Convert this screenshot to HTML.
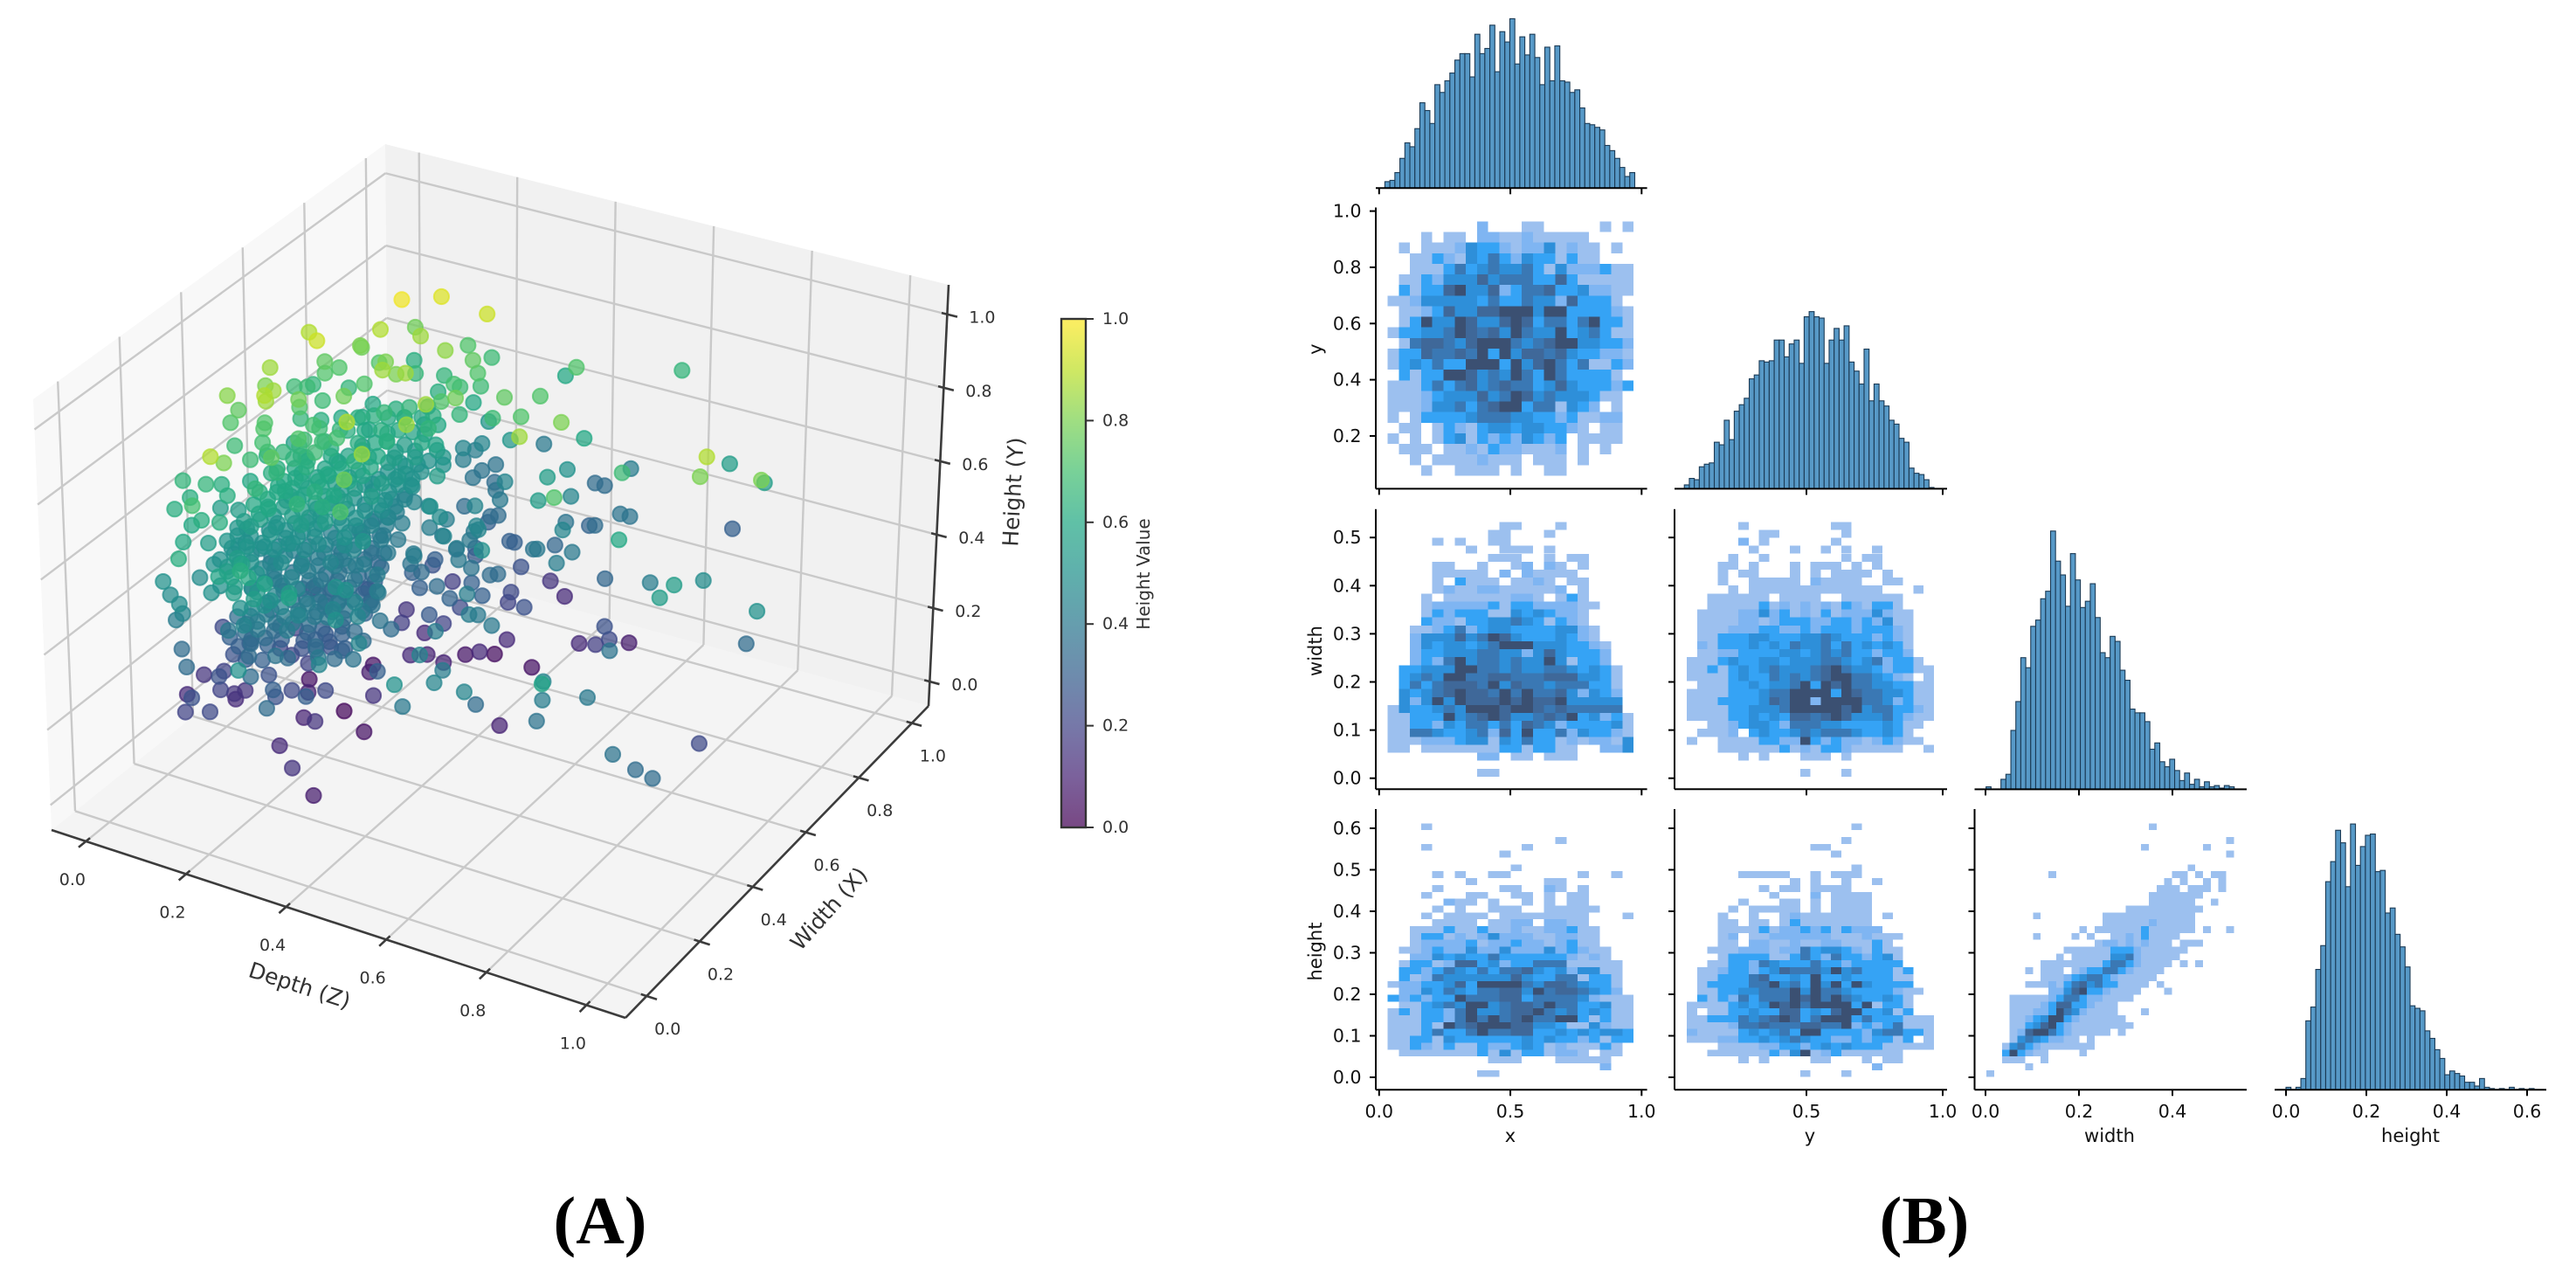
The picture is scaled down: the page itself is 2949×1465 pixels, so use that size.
<!DOCTYPE html>
<html lang="en">
<head>
<meta charset="utf-8">
<title>3D scatter and pair plot</title>
<style>
html,body{margin:0;padding:0;background:#fff;}
svg{display:block;}
text{font-family:"DejaVu Sans","Liberation Sans",sans-serif;}
.cap{font-family:"Liberation Serif",serif;font-weight:bold;font-size:77px;fill:#000;}
</style>
</head>
<body>
<svg id="figure" xmlns="http://www.w3.org/2000/svg" width="2949" height="1465" viewBox="0 0 2949 1465">
  <rect x="0" y="0" width="2949" height="1465" fill="#fff"/>
  <g id="scatter3d">
    <g id="panes"></g>
    <g id="grid3d"></g>
    <g id="axes3d"></g>
    <g id="points3d"></g>
    <text x="1160" y="563" font-size="25" fill="#333" text-anchor="middle" dominant-baseline="central" transform="rotate(-87 1160 563)">Height (Y)</text>
    <text x="343" y="1128" font-size="25" fill="#333" text-anchor="middle" dominant-baseline="central" transform="rotate(18 343 1128)">Depth (Z)</text>
    <text x="949" y="1040" font-size="25" fill="#333" text-anchor="middle" dominant-baseline="central" transform="rotate(-48 949 1040)">Width (X)</text>
    <g id="colorbar"></g>
    <text x="1309" y="657" font-size="20" fill="#333" text-anchor="middle" dominant-baseline="central" transform="rotate(-90 1309 657)">Height Value</text>
  </g>
  <g id="pairplot"></g>
  <text class="cap" x="687" y="1423" text-anchor="middle">(A)</text>
  <text class="cap" x="2203" y="1423" text-anchor="middle">(B)</text>
</svg>
<script>
// ---------- 3D scatter values ----------
const depthValues = [
.18,.21,.29,.13,.10,.18,.03,.09,.07,.06,
.04,.23,.17,.20,.02,.01,.01,.02,.07,.14,
.19,.18,.23,.10,.14,.23,.24,.24,.29,.38,
.50,-.04,-.02,-.04,.02,.09,.14,.21,.21,-.01,
.01,.07,.09,.08,.07,.04,.03,.13,.05,.11,
.15,.10,.32,.24,.30,.20,.24,.20,.35,.38,
-.02,-.03,.01,.02,.03,.06,.13,.14,.13,.19,
.32,.39,.02,.03,.26,.33,.08,.09,.08,.13,
.15,.52,.44,.24,.27,.18,.16,.16,.52,-.01,
.04,.10,.11,-.03,.04,.16,.13,.20,.16,.13,
.10,.04,.12,.01,.07,.07,.32,.13,.16,.20,
.19,.18,.18,.20,.29,.40,.42,.44,.36,.38,
.62,.86,.68,.83,.93,.77,-.04,0,0,.02,
.08,.08,.12,.29,.13,.17,.19,.25,.24,.28,
.42,.59,.45,-.02,.03,.08,.09,.15,.17,.18,
.19,.20,.29,.26,-.02,.06,-.01,.02,.10,.17,
.19,.30,.14,.18,.19,.28,.26,.27,.48,.50,
.41,.41,.44,.63,.02,.04,.07,.03,.07,.14,
.17,.14,.17,.24,.30,.30,.34,.47,.68,.30,
.31,.04,.04,.05,.09,.12,.15,.19,.24,.21,
.27,.22,.26,.32,.42,.41,.43,.40,.49,.08,
.05,.07,.10,.14,.17,.20,.25,.25,.26,.33,
.35,.37,.38,.33,.50,.33,.54,.20,.01,.04,
.14,0,.12,.03,.27,.10,.28,.25,.31,.32,
.34,.36,.68,.81,.80,.03,.10,.17,.05,.12,
.20,.29,.24,.16,.33,.29,.42,.36,.34,.41,
.81,.06,.06,-.03,.17,.07,.21,.27,.23,.20,
.30,.46,.46,.95,.04,.06,.17,.15,.05,.33,
.31,.21,.28,.44,.50,.35,.57,.47,.54,.58,
.52,.89,.05,.06,.10,.08,.11,.21,.25,.30,
.32,.23,.24,.48,.28,.27,.33,.30,.39,.71,
.14,.17,.09,-.02,.04,.08,.16,.15,.07,.35,
.34,.52,.28,.20,
-.03,.08,.07,.06,.05,.07,.22,.20,.19,.13,
.28,.24,.27,.53,.55,.61,.58,.51,.16,.06,
.11,.28,.17,.23,.48,.72,.72,.80,.71,.77,
.25,.20,.90,.89,.28,.93,.97,.31,
.07,.09,.10,.14,.15,.18,
.08,.08,.09,.13,.14,.15,.22,
.08,.09,.14,.12,.13,.16,.14,.20,.21,
.05,.05,.06,.12,.09,.10,.11,.16,.15,.18,.17,.20,
.05,.06,.09,.09,.13,.12,.17,.13,.16,.18,
.07,.08,.12,.11,.15,.12,.18,.17,.18,
.07,.08,.07,.11,.12,.14,.13,.19,.15,.17,
.07,.08,.08,.11,.11,.15,.14,.17,.18,.16,
.05,.07,.08,.09,.12,.13,.16,.17,.17,.17,
.03,.05,.09,.09,.12,.13,.14,.19,.16,.19,.20,
.03,.08,.05,.11,.08,.14,.13,.14,.19,.17,.19,
.05,.11,.10,.07,.13,.12,.13,.18,.16,.21,.19,
.12,.19,.13,.09,.15,.13,.16,.15,.21,.17,
.10,.16,.15,.22,.09,.18,.11,.16,.22,.19,.27,
.21,.20,.28,.20,.18,.23,.29,.27,
.07,.14,.16,.19,.23,.22,.24,.23,.32,
.12,.11,.16,.15,.22,.18,.18,.22,.27,
.09,.14,.13,.15,.24,.19,.25,.37,
.11,.15,.22,.22,.15,.30,.29,.34,
.22,.25,.33,.31,.23,.26,.26,.27,.25,.21,.19,
.07,.09,.11,.14,
.07,.08,.10,.15,.15,.16,
.05,.08,.08,.11,.12,.16,.13,.17,.18,
.07,.08,.08,.12,.11,.15,.13,.17,.14,
.08,.08,.11,.12,.12,.16,.12,.18,.17,
.08,.06,.11,.10,.13,.13,.17,.14,.18,
.03,.07,.05,.09,.08,.13,.10,.15,.17,.15,
.04,.04,.08,.05,.11,.08,.14,.11,.16,.14,
.06,.07,.06,.10,.08,.13,.11,.17,.15,.14,
.09,.15,.09,.09,.09,.14,.12,.16,.15,.19,
.16,.20,.12,.10,.09,.15,.12,.18,.17,
.18,.16,.25,.16,.15,.19,.23,.20,
.15,.20,.19,.20,.20,.20,.24,.28,
.12,.16,.16,.20,.19,.18,.22,
.11,.15,.14,.16,.19,.20];
const widthValues = [
.72,.80,.82,.73,.89,.78,.66,.59,.76,.78,
.98,.78,.95,.98,.55,.74,.74,.77,.82,.73,
.64,.70,.65,.89,.92,.87,.87,.88,1.08,.97,
1.13,.72,.73,.78,.80,.74,.90,.84,.86,.46,
.55,.48,.42,.44,.56,.61,.70,.61,.83,.81,
.79,.93,.57,.75,.70,.92,.81,.97,.78,.85,
.51,.50,.66,.71,.76,.78,.74,.79,.87,.82,
.79,.77,.53,.51,.41,.49,.61,.66,.77,.75,
.84,.69,.90,1.09,.93,.98,.95,.99,.55,.48,
.49,.51,.57,.70,.81,.70,.84,.80,.95,.18,
.27,.45,.39,.55,.58,.68,.36,.79,.80,.82,
1.01,.98,.95,.99,.88,.91,.81,1.06,1.07,1.07,
.73,.61,1.00,.64,.68,.97,.36,.37,.42,.48,
.47,.53,.57,.35,.70,.72,.73,.72,.93,.88,
.89,.55,.73,.35,.39,.40,.48,.48,.51,.66,
.74,.89,.78,.68,.30,.23,.43,.44,.41,.39,
.44,.32,.68,.67,.70,.68,.88,.89,.96,.96,
.89,.97,.94,1.10,.29,.29,.30,.45,.48,.45,
.48,.64,.67,.71,.66,.76,.71,.78,.62,.88,
.88,.23,.31,.39,.41,.44,.49,.51,.49,.62,
.61,.76,.83,.67,.59,.78,.76,.87,.78,.15,
.31,.36,.43,.45,.51,.53,.52,.63,.65,.66,
.67,.70,.71,.87,.71,.97,.81,.85,.21,.28,
.18,.51,.41,.66,.35,.73,.47,.66,.62,.72,
.82,.97,.73,.59,.71,.20,.22,.18,.48,.45,
.41,.35,.51,.76,.63,.73,.54,.69,.81,.75,
.54,.18,.19,.46,.20,.46,.33,.34,.51,.68,
.61,.48,.51,.64,.20,.34,.21,.36,.57,.25,
.43,.74,.69,.40,.49,.79,.76,.84,.78,.76,
.93,.71,.20,.35,.34,.47,.46,.38,.40,.39,
.45,.66,.70,.28,.69,.78,.73,.83,.81,.54,
.68,.62,.15,.38,.35,.27,.24,.32,.58,.16,
.37,.29,.01,.18,
.34,.18,.29,.35,.37,.37,.22,.26,.33,.48,
.23,.36,.47,.11,.21,.21,.30,.17,.55,.19,
.19,.10,.40,.34,.55,.27,.29,.15,.31,.36,
.47,.27,.53,.24,.18,.25,.24,.20,
.75,.77,.80,.79,.83,.82,
.59,.70,.74,.73,.77,.80,.74,
.56,.61,.57,.67,.71,.70,.79,.75,.78,
.49,.54,.58,.53,.63,.67,.72,.67,.74,.76,.82,.82,
.52,.56,.55,.61,.60,.67,.63,.75,.76,.78,
.51,.55,.54,.61,.59,.69,.65,.72,.75,
.43,.47,.53,.51,.56,.57,.64,.60,.73,.74,
.41,.44,.49,.50,.55,.53,.60,.61,.65,.73,
.41,.43,.47,.51,.50,.53,.55,.58,.63,.68,
.42,.43,.43,.48,.47,.51,.56,.51,.62,.63,.67,
.40,.37,.46,.41,.52,.46,.54,.58,.54,.63,.64,
.33,.29,.35,.46,.40,.48,.52,.48,.57,.54,.63,
.24,.17,.32,.44,.40,.49,.48,.55,.51,.64,
.25,.20,.27,.20,.47,.37,.55,.51,.46,.57,.49,
.18,.25,.18,.37,.46,.42,.38,.47,
.35,.28,.30,.31,.29,.36,.37,.44,.34,
.24,.31,.27,.34,.27,.40,.46,.45,.41,
.32,.28,.35,.43,.33,.46,.41,.26,
.31,.30,.23,.27,.45,.24,.31,.29,
.74,.75,.72,.73,.92,.83,.72,.75,.64,.70,.80,
.56,.63,.70,.76,
.54,.57,.64,.61,.72,.76,
.50,.55,.60,.59,.64,.62,.72,.71,.75,
.49,.52,.57,.55,.63,.61,.70,.69,.79,
.44,.50,.49,.53,.58,.56,.69,.64,.71,
.41,.49,.47,.54,.53,.59,.58,.69,.67,
.42,.40,.49,.48,.55,.51,.61,.59,.60,.69,
.37,.43,.42,.52,.47,.57,.53,.62,.59,.68,
.36,.40,.48,.46,.55,.52,.61,.54,.64,.70,
.29,.24,.40,.44,.50,.47,.56,.54,.62,.60,
.19,.18,.36,.45,.53,.48,.58,.54,.61,
.24,.33,.23,.43,.51,.49,.47,.58,
.27,.23,.30,.34,.40,.45,.43,.42,
.30,.27,.33,.32,.39,.45,.45,
.33,.31,.38,.42,.41,.44];
const heightValues = [
.98,.95,.92,.88,.78,.85,.88,.92,.80,.78,
.62,.83,.72,.68,.85,.75,.72,.72,.72,.80,
.85,.80,.85,.66,.65,.75,.72,.68,.60,.72,
.65,.68,.68,.65,.65,.72,.62,.70,.68,.82,
.80,.85,.88,.85,.78,.72,.68,.78,.60,.62,
.65,.55,.85,.72,.78,.60,.65,.52,.75,.72,
.75,.72,.65,.62,.60,.60,.66,.62,.55,.60,
.68,.72,.72,.72,.88,.85,.68,.65,.58,.60,
.55,.80,.60,.40,.52,.45,.45,.42,.85,.68,
.70,.72,.68,.55,.50,.62,.50,.55,.42,.88,
.80,.68,.75,.62,.62,.55,.85,.50,.50,.50,
.38,.38,.38,.35,.45,.50,.55,.42,.35,.35,
.68,.88,.55,.80,.80,.55,.65,.65,.62,.60,
.65,.60,.60,.78,.50,.52,.50,.55,.38,.40,
.45,.72,.55,.62,.62,.65,.60,.62,.60,.50,
.45,.35,.45,.50,.62,.70,.55,.55,.60,.65,
.62,.72,.42,.45,.42,.48,.35,.35,.38,.38,
.38,.32,.35,.30,.60,.62,.62,.50,.50,.55,
.55,.42,.40,.42,.45,.40,.45,.45,.60,.30,
.30,.60,.55,.50,.50,.50,.48,.48,.52,.40,
.42,.30,.30,.42,.50,.38,.40,.33,.40,.62,
.50,.48,.45,.45,.42,.42,.42,.38,.35,.40,
.38,.35,.35,.25,.42,.15,.33,.18,.50,.48,
.58,.30,.42,.22,.50,.20,.42,.30,.35,.30,
.22,.12,.42,.55,.48,.48,.50,.55,.30,.35,
.40,.50,.35,.15,.32,.22,.42,.30,.20,.25,
.55,.48,.45,.22,.50,.30,.42,.45,.32,.18,
.28,.42,.40,.50,.42,.30,.45,.35,.18,.50,
.38,.12,.20,.42,.40,.12,.25,.12,.18,.22,
.08,.35,.35,.25,.30,.20,.20,.30,.30,.35,
.35,.12,.10,.45,.10,.06,.12,.04,.05,.38,
.05,.08,.35,.15,.20,.25,.35,.25,.05,.45,
.30,.42,.50,.35,
.12,.25,.20,.15,.12,.15,.30,.25,.22,.10,
.30,.22,.15,.50,.45,.45,.35,.40,.02,.20,
.22,.35,.10,.15,.10,.38,.42,.58,.45,.40,
.05,.12,.22,.38,.15,.35,.35,.08,
.62,.62,.60,.62,.60,.62,
.70,.62,.60,.62,.60,.58,.65,
.68,.65,.70,.62,.60,.62,.55,.60,.58,
.68,.65,.62,.68,.60,.58,.55,.60,.55,.55,.50,.52,
.62,.60,.62,.58,.60,.55,.60,.50,.50,.50,
.60,.58,.60,.55,.58,.50,.55,.50,.48,
.62,.60,.55,.58,.55,.55,.50,.55,.45,.45,
.60,.58,.55,.55,.52,.55,.50,.50,.48,.42,
.55,.55,.52,.50,.52,.50,.50,.48,.45,.42,
.50,.50,.52,.48,.50,.48,.45,.50,.42,.42,.40,
.48,.52,.45,.50,.42,.48,.42,.40,.45,.38,.38,
.50,.55,.50,.42,.48,.42,.40,.45,.38,.42,.35,
.55,.62,.50,.40,.45,.38,.40,.35,.40,.30,
.50,.55,.50,.58,.35,.45,.30,.35,.40,.32,.40,
.55,.50,.58,.42,.35,.40,.45,.38,
.35,.42,.42,.42,.45,.40,.40,.35,.45,
.40,.35,.40,.35,.42,.32,.28,.30,.35,
.30,.35,.30,.25,.35,.25,.30,.45,
.28,.30,.38,.35,.20,.40,.35,.38,
.45,.42,.45,.40,.30,.28,.40,.35,.40,.30,.25,
.66,.62,.58,.55,
.64,.62,.58,.62,.55,.52,
.62,.60,.56,.58,.55,.58,.50,.52,.50,
.60,.58,.55,.58,.52,.55,.48,.50,.42,
.60,.56,.58,.55,.52,.55,.45,.50,.45,
.58,.52,.55,.50,.52,.48,.50,.42,.45,
.52,.55,.48,.50,.45,.50,.42,.45,.45,.38,
.52,.48,.50,.42,.48,.40,.45,.38,.42,.35,
.50,.48,.42,.45,.38,.42,.35,.42,.35,.30,
.52,.58,.45,.42,.38,.42,.35,.38,.32,.35,
.58,.60,.45,.38,.32,.38,.30,.35,.30,
.52,.45,.55,.38,.32,.35,.38,.30,
.45,.50,.45,.42,.38,.35,.38,.40,
.38,.42,.38,.40,.35,.30,.32,
.32,.35,.30,.28,.30,.28];
const axis3dTicks = [0,0.2,0.4,0.6,0.8,1];
const colorbarTicks = [0,0.2,0.4,0.6,0.8,1];
const viridisStops = ['#440154','#482475','#414487','#355f8d','#2a788e','#21918c','#22a884','#44bf70','#7ad151','#bddf26','#fde725'];

// ---------- pair plot values (histogram counts, one per bin) ----------
const histXCounts = [5,6,12,23,35,32,46,66,60,50,80,74,83,89,99,104,104,86,119,104,108,126,90,121,113,131,96,117,103,119,101,80,109,83,110,83,82,74,76,62,50,49,47,45,33,29,23,16,9,12];
const histYCounts = [3,8,7,17,19,20,36,34,53,38,60,65,70,85,88,99,98,99,115,115,102,112,115,97,133,137,133,132,97,115,124,115,126,98,91,81,108,68,81,68,64,53,50,39,36,16,12,11,7,1];
const histWidthCounts = [2,0,0,8,12,47,70,105,97,130,135,152,158,206,182,171,146,188,167,145,150,164,137,109,105,122,118,95,87,64,61,61,54,32,37,22,18,24,15,7,13,4,8,2,6,2,3,1,3,2];
const histHeightCounts = [2,0,2,9,55,66,96,115,166,182,207,197,162,212,179,194,203,204,174,175,141,145,124,114,98,67,65,63,47,41,32,25,12,15,13,11,6,6,3,9,2,1,0,1,0,2,0,1,0,1];

// heat levels per 2D bin, rows listed from top to bottom
const heatYvsX = [
"0000000020001100000101","0001011022112111110000","0101112433212241211010","0011321435324331311000",
"0011135345445314222311","0113244464555336311111","0313367446235563342211","1124444435335442633310",
"0112364466777477333321","0137447644676355357331","1334457656475447345311","0156654677754567744332",
"1336556573746656433221","1343533777374675351132","0313377645475375333310","1113535645655346433323",
"1112344464576454443110","1112445356773551432010","1013333455544332311220","0110132134434433210110",
"1010134132324323011110","0111011213221112010100","0010111121110111010000","0001001111010011000000"];
const heatWidthVsX = [
"0000000000110001000000","0000000001100010000000","0000101001100000000000","0000000100111010000000",
"0000000001110010110000","0000110010012021010000","0000111110202111100000","0000103111011210110000",
"0000121122111112010000","0001011111122101310000","0001222223133222211000","0001323331143432210000",
"0003221334454313210000","0011235234433334421000","0024446457643334321000","0024344345777444332100",
"0023344455442464333200","0023257455454474133200","0334447755454455434310","0345477556655566644310",
"0353566657465545553310","0434567665757556424320","0424747666767667444440","1433454777677656555550",
"1133374567644565734231","1133243553536542333341","1155433452637335243321","1112223441435331212214",
"1101111111331331100224","0000000022011011100000","0000000000000000000000","0000000011000000000000"];
const heatWidthVsY = [
"000001000000001100000000","000000011000000100000000","000002010000001000000000","000000100010010100100000",
"000010010000000101100000","000110100010111010100000","000101100010101111010000","000100111110211110011000",
"000010111111111111100010","001111110111100111111000","001111131212121321331000","011112242312131222421100",
"011112212333223323241100","011122233223233323332100","011333443334454333232100","021333434354453534343100",
"011223333443454533233200","111343344344455434523310","113134345444567544323311","111134335454567755432101",
"011133434457376755443311","111133345577773765544311","111333346577277775542311","111133444577777674553321",
"111133434366567644453211","001123443255544333343110","011120343345455543343100","100111133227323221232110",
"000111111312133211111001","000001010001110100000000","000000000000000000000000","000000000001000100000000"];
const heatHeightVsX = [
"0001000000000000000000","0000000000000000000000","0000000000000001000000","0001000000001000000000",
"0000000000100000000000","0000000000000000000000","0000000000010000000000","0000101001100000010010",
"0000000100000011000000","0000100000110021010000","0001000110011010110000","0000021101001010110000",
"0000101001110011111000","0001011110111111110001","0000111101122022110000","0011131131121122311000",
"0013312124222112211000","0012222312232212311000","0112322422422242321100","0022434335333333212100",
"0133126634233555111110","0332354353556434244110","0312544444464335513310","1223346377775466543310",
"0224354355664756654320","3232337555663555542111","0113454774566575533411","1313325744566754534311",
"1113325757567557731311","1113175677766443114211","1113533575566334343443","1133143333334343323133",
"1132131132234312111310","0111111131413312210110","0000000001110001111100","0000000000000000000200",
"0000000011000000000000"];
const heatHeightVsY = [
"000000000000000010000000","000000000000000000000000","000000000000000100000000","000000000000110000000000",
"000000000000001000000000","000000000000000000000000","000000000000000010000000","000001111100101110000000",
"000000000010100100100000","000000010110111100000000","000000001000201111000000","000001000110101111000000",
"000010111110101111000000","000100100121111111010000","000110110131111111000000","000111131223231322200000",
"000120112222221112111000","000110221121122111310000","001112221225344321311000","000133331135325332341000",
"001133254333533233333000","011233234655547453331300","011333563343733433331100","013333557453747374333300",
"011334455574755433332110","031325355576757543343100","111134347675777737133100","101133433663436773341300",
"113335456763577735333111","111125565556655723235111","211113434537733332455331","111223343454332232331301",
"000111122332343433311111","001111113147123111111000","000001010000110001011000","000000000000000000200000",
"000000000001000100000000"];
const heatHeightVsWidth = [
"00000000000000000000010000000000","00000000000000000000000000000000","00000000000000000000000000000001","00000000000000000000100000001000",
"00000000000000000000000000000001","00000000000000000000000000000000","00000000000000000000000000100000","00000000100000000000000011010110",
"00000000000000000000000101001010","00000000000000000000001110111010","00000000000000000000011111110000","00000000000000000000011111100100",
"00000000000000000011111111110000","00000010000000011111111111100000","00000000000000011111121111100000","00000000000010111111311111101001",
"00000010000101001121311110000000","00000000000000122121211101110000","00000000001111113332111111000000","00000000010111114452111110000000",
"00000001111111135532111101010000","00000101110123355321111000000000","00000001112345532111110000000000","00000111213564533111101000000000",
"00000000224673321111000100000000","00011111235532211110000000000000","00011112366332111000000000000000","00011122375421111000100000000000",
"00011234773211111100000000000000","00011346732111111110000000000000","00012677532111110100000000000000","00014543221101000000000000000000",
"00145321111111000000000000000000","00373211000010000000000000000000","00111001000000000000000000000000","00000100000000000000000000000000",
"10000000000000000000000000000000"];
const heatLevelColors = ['none','#9cc0ef','#7fb5f2','#35a3f5','#2e8fd9','#3a78b4','#3f6899','#3b5072'];

const xTicks = [0,0.5,1];
const yColumnTicks = [0.5,1];
const widthColumnTicks = [0,0.2,0.4];
const heightColumnTicks = [0,0.2,0.4,0.6];
const yRowTicks = [0.2,0.4,0.6,0.8,1];
const widthRowTicks = [0,0.1,0.2,0.3,0.4,0.5];
const heightRowTicks = [0,0.1,0.2,0.3,0.4,0.5,0.6];

// ---------- drawing ----------
const NS = 'http://www.w3.org/2000/svg';
function make(parent, tag, attrs, txt) {
  const el = document.createElementNS(NS, tag);
  for (const k in attrs) el.setAttribute(k, attrs[k]);
  if (txt !== undefined) el.textContent = txt;
  parent.appendChild(el);
  return el;
}
// trilinear interpolation over the pane box (a: depth, b: width, c: height, each 0..1 across the box)
const box = {
  c000:[59,950], c100:[716,1165], c110:[1063,808], c010:[445,640],
  c001:[38,457], c101:[716,660], c111:[1086,326], c011:[441,165]
};
function boxPoint(a,b,c){
  const out=[0,0];
  for(let i=0;i<2;i++){
    const f0=(box.c000[i]*(1-a)+box.c100[i]*a)*(1-b)+(box.c010[i]*(1-a)+box.c110[i]*a)*b;
    const f1=(box.c001[i]*(1-a)+box.c101[i]*a)*(1-b)+(box.c011[i]*(1-a)+box.c111[i]*a)*b;
    out[i]=f0*(1-c)+f1*c;
  }
  return out;
}
const tDepth = v => 0.06+0.872*v;
const tWidth = v => 0.07+0.875*v;
const tHeight = v => 0.058+0.872*v;
function project(d,w,h){ return boxPoint(tDepth(d),tWidth(w),tHeight(h)); }
// perspective calibration for the scatter cloud on top of the box projection
function scatterPosition(d,w,h){
  const p=project(d,w,h);
  return [p[0]-9*(1-w), p[1]+34-24*h];
}
function viridis(v){
  const p=Math.max(0,Math.min(1,v))*(viridisStops.length-1);
  const i=Math.min(viridisStops.length-2,Math.floor(p)), f=p-i;
  const a=viridisStops[i], b=viridisStops[i+1];
  const ch=(s,o)=>parseInt(s.substr(o,2),16);
  return 'rgb('+[1,3,5].map(o=>Math.round(ch(a,o)*(1-f)+ch(b,o)*f)).join(',')+')';
}
function poly(pts){ return pts.map(p=>p[0]+','+p[1]).join(' '); }

// panes
const paneGroup=document.getElementById('panes');
const paneFloor=make(paneGroup,'polygon',{points:poly([box.c000,box.c100,box.c110,box.c010]),fill:'#f4f4f4'});


const paneLeft=make(paneGroup,'polygon',{points:poly([box.c000,box.c010,box.c011,box.c001]),fill:'#f8f8f8'});


const paneRight=make(paneGroup,'polygon',{points:poly([box.c010,box.c110,box.c111,box.c011]),fill:'#f1f1f1'});



// grid
const gridGroup=document.getElementById('grid3d');
function gridLine(p,q){
  const l=make(gridGroup,'line',{x1:p[0],y1:p[1],x2:q[0],y2:q[1],stroke:'#c9c9c9','stroke-width':2.4});
  
  
}
axis3dTicks.forEach(v=>{
  gridLine(boxPoint(tDepth(v),0,0),boxPoint(tDepth(v),1,0));
  gridLine(boxPoint(0,tWidth(v),0),boxPoint(1,tWidth(v),0));
  gridLine(boxPoint(0,tWidth(v),0),boxPoint(0,tWidth(v),1));
  gridLine(boxPoint(0,0,tHeight(v)),boxPoint(0,1,tHeight(v)));
  gridLine(boxPoint(tDepth(v),1,0),boxPoint(tDepth(v),1,1));
  gridLine(boxPoint(0,1,tHeight(v)),boxPoint(1,1,tHeight(v)));
});

// axes and ticks
const axesGroup=document.getElementById('axes3d');
function axisLine(p,q,name){
  const l=make(axesGroup,'line',{x1:p[0],y1:p[1],x2:q[0],y2:q[1],stroke:'#3c3c3c','stroke-width':2.6});
  
  
}
function tickLabel3d(pos,v,name){
  const t=make(axesGroup,'text',{x:pos[0],y:pos[1],'font-size':19,fill:'#333','text-anchor':'middle','dominant-baseline':'central'},v.toFixed(1));
  
  
}
axisLine(box.c000,box.c100,'depth-axis-line');
axisLine(box.c100,box.c110,'width-axis-line');
axisLine(box.c110,box.c111,'height-axis-line');
axis3dTicks.forEach(v=>{
  const dp=boxPoint(tDepth(v),0,0);
  axisLine(boxPoint(tDepth(v),0.012,0),boxPoint(tDepth(v),-0.022,0),'depth-tick');
  tickLabel3d([dp[0]-15.5,dp[1]+44],v,'depth-tick-label');
  const wp=boxPoint(1,tWidth(v),0);
  axisLine(boxPoint(0.99,tWidth(v),0),boxPoint(1.018,tWidth(v),0),'width-tick');
  tickLabel3d([wp[0]+24,wp[1]+38],v,'width-tick-label');
  const hp=boxPoint(1,1,tHeight(v));
  axisLine(boxPoint(0.99,1,tHeight(v)),boxPoint(1.018,1,tHeight(v)),'height-tick');
  tickLabel3d([hp[0]+40,hp[1]+4],v,'height-tick-label');
});

// points, farthest from the viewer first
const pointGroup=document.getElementById('points3d');
const drawOrder=depthValues.map((d,i)=>i).sort((a,b)=>
  (depthValues[a]-widthValues[a]+0.6*heightValues[a])-(depthValues[b]-widthValues[b]+0.6*heightValues[b]));
drawOrder.forEach(i=>{
  const p=scatterPosition(depthValues[i],widthValues[i],heightValues[i]);
  const col=viridis(heightValues[i]);
  const c=make(pointGroup,'circle',{cx:p[0].toFixed(1),cy:p[1].toFixed(1),r:8.6,fill:col,'fill-opacity':0.72,stroke:col,'stroke-opacity':0.72,'stroke-width':2});
  
  
});

// colorbar
const cb=document.getElementById('colorbar');
const cbY=v=>947-582*v;
const defs=make(cb,'defs',{});
const grad=make(defs,'linearGradient',{id:'viridisGrad',x1:0,y1:1,x2:0,y2:0});
viridisStops.forEach((s,i)=>{
  make(grad,'stop',{offset:i/(viridisStops.length-1),'stop-color':s,'stop-opacity':0.72});
});
const cbRect=make(cb,'rect',{x:1215,y:cbY(1),width:28,height:cbY(0)-cbY(1),fill:'url(#viridisGrad)',stroke:'#333','stroke-width':2.4});


colorbarTicks.forEach(v=>{
  const l=make(cb,'line',{x1:1243,x2:1252,y1:cbY(v),y2:cbY(v),stroke:'#333','stroke-width':2});
  
  
  const t=make(cb,'text',{x:1262,y:cbY(v),'font-size':19,fill:'#333','dominant-baseline':'central'},v.toFixed(1));
  
  
});

// ---------- pair plot ----------
const pair=document.getElementById('pairplot');
const columns={
  x:{name:'x',spine:[1575,1885.6],scale:v=>1578.8+300.5*v,ticks:xTicks,hist:{counts:histXCounts,start:0.022,step:0.01904,perCount:1.48},labelX:1729},
  y:{name:'y',spine:[1917,2229],scale:v=>1912+312*v,ticks:yColumnTicks,hist:{counts:histYCounts,start:0.052,step:0.01832,perCount:1.48},labelX:2072},
  width:{name:'width',spine:[2260.5,2572],scale:v=>2273+535*v,ticks:widthColumnTicks,hist:{counts:histWidthCounts,start:0.0012,step:0.01062,perCount:1.435},labelX:2415},
  height:{name:'height',spine:[2604,2915],scale:v=>2617+460*v,ticks:heightColumnTicks,hist:{counts:histHeightCounts,start:0,step:0.01235,perCount:1.435},labelX:2759.5}
};
const rows={
  y:{top:237.5,bottom:559.4,scale:v=>563.3-321.7*v,ticks:yRowTicks},
  width:{top:582.7,bottom:903.3,scale:v=>890.7-551*v,ticks:widthRowTicks},
  height:{top:926,bottom:1247.3,scale:v=>1233-475*v,ticks:heightRowTicks}
};
const binsX={start:0.0323,step:0.0426};
const binsY={start:0.0615,step:0.03775,top:0.9633,rowStep:0.0377};
const binsWidth={start:0.0022,step:0.01654,top:0.5325,rowStep:0.01654};
const binsHeight={start:0,step:0.01652,top:0.612,rowStep:0.01652};

function spineH(g,col,y){
  const l=make(g,'line',{x1:col.spine[0],x2:col.spine[1],y1:y,y2:y,stroke:'#000','stroke-width':2});
  
  
  col.ticks.forEach(v=>{
    const t=make(g,'line',{x1:col.scale(v),x2:col.scale(v),y1:y,y2:y+7,stroke:'#000','stroke-width':2});
    
    
  });
}
function spineV(g,col,row){
  const x=col.spine[0];
  const l=make(g,'line',{x1:x,x2:x,y1:row.top,y2:row.bottom,stroke:'#000','stroke-width':2});
  
  
  row.ticks.forEach(v=>{
    const t=make(g,'line',{x1:x-7,x2:x,y1:row.scale(v),y2:row.scale(v),stroke:'#000','stroke-width':2});
    
    
  });
}
function drawHist(col,baseline){
  const g=make(pair,'g',{});
  
  
  col.hist.counts.forEach((n,i)=>{
    if(!n) return;
    const x0=col.scale(col.hist.start+i*col.hist.step);
    const x1=col.scale(col.hist.start+(i+1)*col.hist.step);
    const h=n*col.hist.perCount;
    const r=make(g,'rect',{x:x0,y:baseline-h,width:x1-x0,height:h,fill:'#5799c7',stroke:'#1b3a55','stroke-width':1.1});
    
    
  });
  spineH(g,col,baseline);
}
function drawHeat(col,colBins,row,rowBins,levels,name){
  const g=make(pair,'g',{'shape-rendering':'crispEdges'});
  
  
  levels.forEach((str,r)=>{
    const y0=row.scale(rowBins.top-r*rowBins.rowStep);
    const y1=row.scale(rowBins.top-(r+1)*rowBins.rowStep);
    for(let c=0;c<str.length;c++){
      const lv=+str[c];
      if(!lv) continue;
      const x0=col.scale(colBins.start+c*colBins.step);
      const x1=col.scale(colBins.start+(c+1)*colBins.step);
      const rc=make(g,'rect',{x:x0.toFixed(2),y:y0.toFixed(2),width:(x1-x0).toFixed(2),height:(y1-y0).toFixed(2),fill:heatLevelColors[lv]});
      
      
    }
  });
  const ax=make(pair,'g',{});
  
  
  spineH(ax,col,row.bottom);
  spineV(ax,col,row);
}

drawHist(columns.x,215.3);
drawHist(columns.y,559.4);
drawHist(columns.width,903.4);
drawHist(columns.height,1247.3);
drawHeat(columns.x,binsX,rows.y,binsY,heatYvsX,'heatmap-y-vs-x');
drawHeat(columns.x,binsX,rows.width,binsWidth,heatWidthVsX,'heatmap-width-vs-x');
drawHeat(columns.y,binsY,rows.width,binsWidth,heatWidthVsY,'heatmap-width-vs-y');
drawHeat(columns.x,binsX,rows.height,binsHeight,heatHeightVsX,'heatmap-height-vs-x');
drawHeat(columns.y,binsY,rows.height,binsHeight,heatHeightVsY,'heatmap-height-vs-y');
drawHeat(columns.width,binsWidth,rows.height,binsHeight,heatHeightVsWidth,'heatmap-height-vs-width');

// tick labels and axis titles
const labelGroup=make(pair,'g',{});


Object.keys(columns).forEach(k=>{
  const col=columns[k];
  col.ticks.forEach(v=>{
    const t=make(labelGroup,'text',{x:col.scale(v),y:1272,'font-size':20.5,fill:'#111','text-anchor':'middle','dominant-baseline':'central'},v.toFixed(1));
    
    
  });
  const title=make(labelGroup,'text',{x:col.labelX,y:1300,'font-size':21,fill:'#111','text-anchor':'middle','dominant-baseline':'central'},col.name);
  
  
});
Object.keys(rows).forEach(k=>{
  const row=rows[k];
  row.ticks.forEach(v=>{
    const t=make(labelGroup,'text',{x:1558.5,y:row.scale(v),'font-size':20.5,fill:'#111','text-anchor':'end','dominant-baseline':'central'},v.toFixed(1));
    
    
  });
  const cy=k==='y'?399.6:(k==='width'?745:1089);
  const title=make(labelGroup,'text',{x:1506,y:cy,'font-size':21,fill:'#111','text-anchor':'middle','dominant-baseline':'central',transform:'rotate(-90 1506 '+cy+')'},k);
  
  
});
</script>
</body>
</html>
